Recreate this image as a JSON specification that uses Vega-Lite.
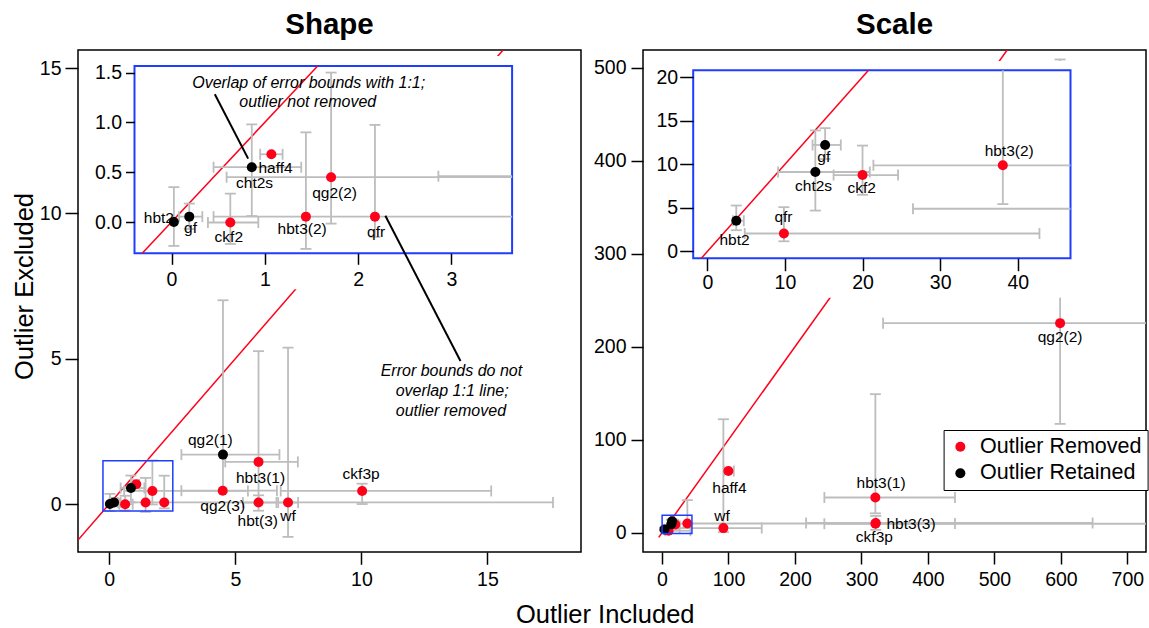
{
  "$schema": "https://vega.github.io/schema/vega-lite/v6.json",
  "background": "white",
  "padding": {"left": 11, "top": 8, "right": 0, "bottom": 0},
  "spacing": 10,
  "title": {"text": "Outlier Included", "orient": "bottom", "anchor": "middle", "fontSize": 25.5, "fontWeight": "normal", "font": "Liberation Sans", "color": "black", "dx": 25, "offset": 13},
  "datasets": {
    "shapePts": [
      {"name": "ckf2", "status": "Outlier Removed", "x": 0.63, "y": -0.005, "xlo": 0.39, "xhi": 0.93, "ylo": -0.22, "yhi": 0.285},
      {"name": "haff4", "status": "Outlier Removed", "x": 1.07, "y": 0.68, "xlo": 0.95, "xhi": 1.19, "ylo": null, "yhi": null},
      {"name": "hbt3(2)", "status": "Outlier Removed", "x": 1.44, "y": 0.054, "xlo": null, "xhi": null, "ylo": -0.27, "yhi": 0.9},
      {"name": "qg2(2)", "status": "Outlier Removed", "x": 1.71, "y": 0.45, "xlo": 0.59, "xhi": 5.5, "ylo": -0.016, "yhi": 1.5},
      {"name": "qfr", "status": "Outlier Removed", "x": 2.18, "y": 0.054, "xlo": 0.45, "xhi": 17.6, "ylo": -0.15, "yhi": 0.975},
      {"name": "hbt3(1)", "status": "Outlier Removed", "x": 5.92, "y": 1.45, "xlo": 4.6, "xhi": 7.48, "ylo": 0.05, "yhi": 5.26},
      {"name": "ckf3p", "status": "Outlier Removed", "x": 10.03, "y": 0.45, "xlo": 6.8, "xhi": 15.15, "ylo": 0.0, "yhi": 0.7},
      {"name": "qg2(3)", "status": "Outlier Removed", "x": 4.5, "y": 0.46, "xlo": 2.86, "xhi": 6.65, "ylo": null, "yhi": null},
      {"name": "hbt(3)", "status": "Outlier Removed", "x": 5.92, "y": 0.05, "xlo": 5.3, "xhi": 6.63, "ylo": -0.23, "yhi": 0.3},
      {"name": "wf", "status": "Outlier Removed", "x": 7.09, "y": 0.05, "xlo": 6.7, "xhi": 7.49, "ylo": -1.13, "yhi": 5.38},
      {"name": "hbt2", "status": "Outlier Retained", "x": 0.025, "y": 0.0, "xlo": null, "xhi": null, "ylo": -0.24, "yhi": 0.35},
      {"name": "gf", "status": "Outlier Retained", "x": 0.19, "y": 0.054, "xlo": 0.08, "xhi": 0.33, "ylo": -0.07, "yhi": 0.185},
      {"name": "cht2s", "status": "Outlier Retained", "x": 0.86, "y": 0.55, "xlo": 0.45, "xhi": 1.39, "ylo": 0.06, "yhi": 0.98},
      {"name": "qg2(1)", "status": "Outlier Retained", "x": 4.51, "y": 1.7, "xlo": 2.86, "xhi": 6.75, "ylo": 0.45, "yhi": 7.01}
    ],
    "shapeLabels": [
      {"name": "hbt2", "view": "inset", "lx": -0.136, "ly": 0.044},
      {"name": "gf", "view": "inset", "lx": 0.204, "ly": -0.056},
      {"name": "ckf2", "view": "inset", "lx": 0.614, "ly": -0.15},
      {"name": "cht2s", "view": "inset", "lx": 0.89, "ly": 0.389},
      {"name": "haff4", "view": "inset", "lx": 1.115, "ly": 0.546},
      {"name": "qg2(2)", "view": "inset", "lx": 1.747, "ly": 0.295},
      {"name": "hbt3(2)", "view": "inset", "lx": 1.4, "ly": -0.073},
      {"name": "qfr", "view": "inset", "lx": 2.193, "ly": -0.1},
      {"name": "qg2(1)", "view": "main", "lx": 4.01, "ly": 2.2},
      {"name": "hbt3(1)", "view": "main", "lx": 6.0, "ly": 0.91},
      {"name": "ckf3p", "view": "main", "lx": 9.99, "ly": 1.02},
      {"name": "qg2(3)", "view": "main", "lx": 4.5, "ly": -0.07},
      {"name": "hbt(3)", "view": "main", "lx": 5.89, "ly": -0.585},
      {"name": "wf", "view": "main", "lx": 7.09, "ly": -0.41}
    ],
    "shapeDiagMain": [{"x": -1.24, "y": -1.24}, {"x": 15.62, "y": 15.62}],
    "shapeDiagInset": [{"x": -0.314, "y": -0.314}, {"x": 1.566, "y": 1.566}],
    "shapeSmallBox": [{"x": -0.25, "x2": 2.52, "y": -0.24, "y2": 1.49}],
    "shapeInsetBg": [{"x": -0.7, "x2": 16.37, "y": 7.39, "y2": 15.41}],
    "shapeInsetBox": [{"x": -0.397, "x2": 3.65, "y": -0.314, "y2": 1.566}],
    "shapeNoteInsetLine": [{"x": 0.464, "y": 1.282}, {"x": 0.821, "y": 0.636}],
    "shapeNoteInsetText": [{"t": "Overlap of error bounds with 1:1;", "x": 1.47, "y": 1.4}, {"t": "outlier not removed", "x": 1.46, "y": 1.205}],
    "shapeNoteMainLine": [{"x": 10.95, "y": 9.92}, {"x": 13.93, "y": 4.92}],
    "shapeNoteMainText": [{"t": "Error bounds do not", "x": 13.57, "y": 4.575}, {"t": "overlap 1:1 line;", "x": 13.6, "y": 3.887}, {"t": "outlier removed", "x": 13.55, "y": 3.199}],
    "scalePts": [
      {"name": "qfr", "status": "Outlier Removed", "x": 9.87, "y": 2.06, "xlo": 4.82, "xhi": 42.8, "ylo": 1.17, "yhi": 5.08},
      {"name": "ckf2", "status": "Outlier Removed", "x": 20.0, "y": 8.76, "xlo": 16.27, "xhi": 24.58, "ylo": 6.5, "yhi": 12.14},
      {"name": "hbt3(2)", "status": "Outlier Removed", "x": 38.08, "y": 9.88, "xlo": 21.4, "xhi": 440.7, "ylo": 5.43, "yhi": 35},
      {"name": "haff4", "status": "Outlier Removed", "x": 99.8, "y": 66.4, "xlo": 93, "xhi": 108, "ylo": null, "yhi": null},
      {"name": "wf", "status": "Outlier Removed", "x": 92.3, "y": 4.9, "xlo": 26.5, "xhi": 150, "ylo": 0.5, "yhi": 122},
      {"name": "hbt3(1)", "status": "Outlier Removed", "x": 320.9, "y": 37.8, "xlo": 244.2, "xhi": 440.7, "ylo": 20.8, "yhi": 149},
      {"name": "ckf3p", "status": "Outlier Removed", "x": 321, "y": 9.6, "xlo": 244.2, "xhi": 760, "ylo": null, "yhi": null},
      {"name": "hbt3(3)", "status": "Outlier Removed", "x": 321.5, "y": 10.4, "xlo": 216.7, "xhi": 647.7, "ylo": 3, "yhi": 18},
      {"name": "qg2(2)", "status": "Outlier Removed", "x": 598.8, "y": 225.4, "xlo": 332.5, "xhi": 760, "ylo": 117, "yhi": 509},
      {"name": "hbt2", "status": "Outlier Retained", "x": 3.73, "y": 3.53, "xlo": 3.3, "xhi": 4.7, "ylo": 2.44, "yhi": 5.27},
      {"name": "cht2s", "status": "Outlier Retained", "x": 13.92, "y": 9.11, "xlo": 9.12, "xhi": 20.94, "ylo": 4.69, "yhi": 13.88},
      {"name": "gf", "status": "Outlier Retained", "x": 15.18, "y": 12.21, "xlo": 13.56, "xhi": 17.2, "ylo": 10.6, "yhi": 14.14}
    ],
    "scaleLabels": [
      {"name": "hbt2", "view": "inset", "lx": 3.5, "ly": 1.28},
      {"name": "qfr", "view": "inset", "lx": 9.81, "ly": 3.92},
      {"name": "cht2s", "view": "inset", "lx": 13.69, "ly": 7.48},
      {"name": "gf", "view": "inset", "lx": 15.0, "ly": 10.85},
      {"name": "ckf2", "view": "inset", "lx": 19.9, "ly": 7.29},
      {"name": "hbt3(2)", "view": "inset", "lx": 38.9, "ly": 11.55},
      {"name": "qg2(2)", "view": "main", "lx": 598.8, "ly": 210.8},
      {"name": "haff4", "view": "main", "lx": 101.4, "ly": 48.5},
      {"name": "wf", "view": "main", "lx": 90.4, "ly": 18},
      {"name": "hbt3(1)", "view": "main", "lx": 329.5, "ly": 53.9},
      {"name": "hbt3(3)", "view": "main", "lx": 374.6, "ly": 9.0},
      {"name": "ckf3p", "view": "main", "lx": 319.4, "ly": -4.2}
    ],
    "scaleDiagMain": [{"x": -5, "y": -5}, {"x": 519.2, "y": 519.2}],
    "scaleDiagInset": [{"x": -0.77, "y": -0.77}, {"x": 20.77, "y": 20.77}],
    "scaleSmallBox": [{"x": 0.15, "x2": 45, "y": -0.8, "y2": 18.8}],
    "scaleInsetBg": [{"x": -19, "x2": 629, "y": 252.7, "y2": 507.4}],
    "scaleInsetBox": [{"x": -1.82, "x2": 46.8, "y": -0.77, "y2": 20.77}]
  },
  "hconcat": [
    {
      "width": 503,
      "height": 502,
      "title": {"text": "Shape", "anchor": "middle", "offset": 10, "fontSize": 29.5, "fontWeight": "bold"},
      "resolve": {"scale": {"x": "independent", "y": "independent"}, "axis": {"x": "independent", "y": "independent"}},
      "layer": [
        {
          "layer": [
            {"data": {"name": "shapeDiagMain"}, "mark": {"type": "line", "color": "#ff001a", "strokeWidth": 1.5, "clip": true},
             "encoding": {
               "x": {"field": "x", "type": "quantitative", "scale": {"domain": [-1.24, 18.71], "nice": false, "zero": false}, "axis": {"orient": "bottom", "values": [0, 5, 10, 15], "tickSize": 12.3, "labelPadding": 6, "title": null, "zindex": 1}},
               "y": {"field": "y", "type": "quantitative", "scale": {"domain": [-1.65, 15.62], "nice": false, "zero": false}, "axis": {"orient": "left", "values": [0, 5, 10, 15], "tickSize": 13, "labelPadding": 4, "title": "Outlier Excluded", "titlePadding": 2, "titleY": 236, "zindex": 1}}}},
            {"data": {"name": "shapePts"}, "transform": [{"filter": "isValid(datum.ylo)"}], "mark": {"type": "rule", "color": "#bdbdbd", "strokeWidth": 1.8, "clip": true},
             "encoding": {
               "x": {"field": "x", "type": "quantitative", "scale": {"domain": [-1.24, 18.71], "nice": false, "zero": false}, "axis": {"orient": "bottom", "values": [0, 5, 10, 15], "tickSize": 12.3, "labelPadding": 6, "title": null, "zindex": 1}},
               "y": {"field": "ylo", "type": "quantitative", "scale": {"domain": [-1.65, 15.62], "nice": false, "zero": false}, "axis": {"orient": "left", "values": [0, 5, 10, 15], "tickSize": 13, "labelPadding": 4, "title": "Outlier Excluded", "titlePadding": 2, "titleY": 236, "zindex": 1}},
               "y2": {"field": "yhi"}}},
            {"data": {"name": "shapePts"}, "transform": [{"filter": "isValid(datum.xlo)"}], "mark": {"type": "rule", "color": "#bdbdbd", "strokeWidth": 1.8, "clip": true},
             "encoding": {
               "x": {"field": "xlo", "type": "quantitative", "scale": {"domain": [-1.24, 18.71], "nice": false, "zero": false}, "axis": {"orient": "bottom", "values": [0, 5, 10, 15], "tickSize": 12.3, "labelPadding": 6, "title": null, "zindex": 1}},
               "x2": {"field": "xhi"},
               "y": {"field": "y", "type": "quantitative", "scale": {"domain": [-1.65, 15.62], "nice": false, "zero": false}, "axis": {"orient": "left", "values": [0, 5, 10, 15], "tickSize": 13, "labelPadding": 4, "title": "Outlier Excluded", "titlePadding": 2, "titleY": 236, "zindex": 1}}}},
            {"data": {"name": "shapePts"}, "transform": [{"filter": "isValid(datum.ylo)"}], "mark": {"type": "tick", "orient": "horizontal", "size": 11, "thickness": 1.8, "color": "#bdbdbd", "opacity": 1, "clip": true},
             "encoding": {
               "x": {"field": "x", "type": "quantitative", "scale": {"domain": [-1.24, 18.71], "nice": false, "zero": false}, "axis": {"orient": "bottom", "values": [0, 5, 10, 15], "tickSize": 12.3, "labelPadding": 6, "title": null, "zindex": 1}},
               "y": {"field": "ylo", "type": "quantitative", "scale": {"domain": [-1.65, 15.62], "nice": false, "zero": false}, "axis": {"orient": "left", "values": [0, 5, 10, 15], "tickSize": 13, "labelPadding": 4, "title": "Outlier Excluded", "titlePadding": 2, "titleY": 236, "zindex": 1}}}},
            {"data": {"name": "shapePts"}, "transform": [{"filter": "isValid(datum.yhi)"}], "mark": {"type": "tick", "orient": "horizontal", "size": 11, "thickness": 1.8, "color": "#bdbdbd", "opacity": 1, "clip": true},
             "encoding": {
               "x": {"field": "x", "type": "quantitative", "scale": {"domain": [-1.24, 18.71], "nice": false, "zero": false}, "axis": {"orient": "bottom", "values": [0, 5, 10, 15], "tickSize": 12.3, "labelPadding": 6, "title": null, "zindex": 1}},
               "y": {"field": "yhi", "type": "quantitative", "scale": {"domain": [-1.65, 15.62], "nice": false, "zero": false}, "axis": {"orient": "left", "values": [0, 5, 10, 15], "tickSize": 13, "labelPadding": 4, "title": "Outlier Excluded", "titlePadding": 2, "titleY": 236, "zindex": 1}}}},
            {"data": {"name": "shapePts"}, "transform": [{"filter": "isValid(datum.xlo)"}], "mark": {"type": "tick", "orient": "vertical", "size": 11, "thickness": 1.8, "color": "#bdbdbd", "opacity": 1, "clip": true},
             "encoding": {
               "x": {"field": "xlo", "type": "quantitative", "scale": {"domain": [-1.24, 18.71], "nice": false, "zero": false}, "axis": {"orient": "bottom", "values": [0, 5, 10, 15], "tickSize": 12.3, "labelPadding": 6, "title": null, "zindex": 1}},
               "y": {"field": "y", "type": "quantitative", "scale": {"domain": [-1.65, 15.62], "nice": false, "zero": false}, "axis": {"orient": "left", "values": [0, 5, 10, 15], "tickSize": 13, "labelPadding": 4, "title": "Outlier Excluded", "titlePadding": 2, "titleY": 236, "zindex": 1}}}},
            {"data": {"name": "shapePts"}, "transform": [{"filter": "isValid(datum.xhi)"}], "mark": {"type": "tick", "orient": "vertical", "size": 11, "thickness": 1.8, "color": "#bdbdbd", "opacity": 1, "clip": true},
             "encoding": {
               "x": {"field": "xhi", "type": "quantitative", "scale": {"domain": [-1.24, 18.71], "nice": false, "zero": false}, "axis": {"orient": "bottom", "values": [0, 5, 10, 15], "tickSize": 12.3, "labelPadding": 6, "title": null, "zindex": 1}},
               "y": {"field": "y", "type": "quantitative", "scale": {"domain": [-1.65, 15.62], "nice": false, "zero": false}, "axis": {"orient": "left", "values": [0, 5, 10, 15], "tickSize": 13, "labelPadding": 4, "title": "Outlier Excluded", "titlePadding": 2, "titleY": 236, "zindex": 1}}}},
            {"data": {"name": "shapePts"}, "mark": {"type": "circle", "size": 100, "opacity": 1},
             "encoding": {
               "x": {"field": "x", "type": "quantitative", "scale": {"domain": [-1.24, 18.71], "nice": false, "zero": false}, "axis": {"orient": "bottom", "values": [0, 5, 10, 15], "tickSize": 12.3, "labelPadding": 6, "title": null, "zindex": 1}},
               "y": {"field": "y", "type": "quantitative", "scale": {"domain": [-1.65, 15.62], "nice": false, "zero": false}, "axis": {"orient": "left", "values": [0, 5, 10, 15], "tickSize": 13, "labelPadding": 4, "title": "Outlier Excluded", "titlePadding": 2, "titleY": 236, "zindex": 1}},
               "color": {"field": "status", "type": "nominal", "scale": {"domain": ["Outlier Removed", "Outlier Retained"], "range": ["#ff001a", "#000000"]}, "legend": null}}},
            {"data": {"name": "shapeLabels"}, "transform": [{"filter": "datum.view == 'main'"}], "mark": {"type": "text", "fontSize": 15.5, "color": "black", "align": "center", "baseline": "middle"},
             "encoding": {
               "x": {"field": "lx", "type": "quantitative", "scale": {"domain": [-1.24, 18.71], "nice": false, "zero": false}, "axis": {"orient": "bottom", "values": [0, 5, 10, 15], "tickSize": 12.3, "labelPadding": 6, "title": null, "zindex": 1}},
               "y": {"field": "ly", "type": "quantitative", "scale": {"domain": [-1.65, 15.62], "nice": false, "zero": false}, "axis": {"orient": "left", "values": [0, 5, 10, 15], "tickSize": 13, "labelPadding": 4, "title": "Outlier Excluded", "titlePadding": 2, "titleY": 236, "zindex": 1}},
               "text": {"field": "name"}}},
            {"data": {"name": "shapeSmallBox"}, "mark": {"type": "rect", "filled": false, "color": "#1f3dff", "strokeWidth": 1.5},
             "encoding": {
               "x": {"field": "x", "type": "quantitative", "scale": {"domain": [-1.24, 18.71], "nice": false, "zero": false}, "axis": {"orient": "bottom", "values": [0, 5, 10, 15], "tickSize": 12.3, "labelPadding": 6, "title": null, "zindex": 1}},
               "x2": {"field": "x2"},
               "y": {"field": "y", "type": "quantitative", "scale": {"domain": [-1.65, 15.62], "nice": false, "zero": false}, "axis": {"orient": "left", "values": [0, 5, 10, 15], "tickSize": 13, "labelPadding": 4, "title": "Outlier Excluded", "titlePadding": 2, "titleY": 236, "zindex": 1}},
               "y2": {"field": "y2"}}},
            {"data": {"name": "shapeInsetBg"}, "mark": {"type": "rect", "fill": "white", "strokeWidth": 0},
             "encoding": {
               "x": {"field": "x", "type": "quantitative", "scale": {"domain": [-1.24, 18.71], "nice": false, "zero": false}, "axis": {"orient": "bottom", "values": [0, 5, 10, 15], "tickSize": 12.3, "labelPadding": 6, "title": null, "zindex": 1}},
               "x2": {"field": "x2"},
               "y": {"field": "y", "type": "quantitative", "scale": {"domain": [-1.65, 15.62], "nice": false, "zero": false}, "axis": {"orient": "left", "values": [0, 5, 10, 15], "tickSize": 13, "labelPadding": 4, "title": "Outlier Excluded", "titlePadding": 2, "titleY": 236, "zindex": 1}},
               "y2": {"field": "y2"}}}
          ]
        },
        {
          "layer": [
            {"data": {"name": "shapeInsetBox"}, "mark": {"type": "rect", "filled": false, "color": "#1f3dff", "strokeWidth": 2},
             "encoding": {
               "x": {"field": "x", "type": "quantitative", "scale": {"domain": [-0.397, 3.65], "range": [56.5, 434.1], "clamp": true, "nice": false, "zero": false}, "axis": {"orient": "bottom", "offset": -298.7, "values": [0, 1, 2, 3], "tickSize": 11, "labelPadding": 6, "title": null, "zindex": 2}},
               "x2": {"field": "x2"},
               "y": {"field": "y", "type": "quantitative", "scale": {"domain": [-0.314, 1.566], "range": [203.3, 16], "clamp": true, "nice": false, "zero": false}, "axis": {"orient": "left", "offset": -56.5, "values": [0, 0.5, 1, 1.5], "format": ".1f", "tickSize": 9, "labelPadding": 4, "title": null, "zindex": 2}},
               "y2": {"field": "y2"}}},
            {"data": {"name": "shapeDiagInset"}, "mark": {"type": "line", "color": "#ff001a", "strokeWidth": 1.5},
             "encoding": {
               "x": {"field": "x", "type": "quantitative", "scale": {"domain": [-0.397, 3.65], "range": [56.5, 434.1], "clamp": true, "nice": false, "zero": false}, "axis": {"orient": "bottom", "offset": -298.7, "values": [0, 1, 2, 3], "tickSize": 11, "labelPadding": 6, "title": null, "zindex": 2}},
               "y": {"field": "y", "type": "quantitative", "scale": {"domain": [-0.314, 1.566], "range": [203.3, 16], "clamp": true, "nice": false, "zero": false}, "axis": {"orient": "left", "offset": -56.5, "values": [0, 0.5, 1, 1.5], "format": ".1f", "tickSize": 9, "labelPadding": 4, "title": null, "zindex": 2}}}},
            {"data": {"name": "shapePts"}, "transform": [{"filter": "isValid(datum.ylo) && datum.x >= -0.397 && datum.x <= 3.65"}], "mark": {"type": "rule", "color": "#bdbdbd", "strokeWidth": 1.8},
             "encoding": {
               "x": {"field": "x", "type": "quantitative", "scale": {"domain": [-0.397, 3.65], "range": [56.5, 434.1], "clamp": true, "nice": false, "zero": false}, "axis": {"orient": "bottom", "offset": -298.7, "values": [0, 1, 2, 3], "tickSize": 11, "labelPadding": 6, "title": null, "zindex": 2}},
               "y": {"field": "ylo", "type": "quantitative", "scale": {"domain": [-0.314, 1.566], "range": [203.3, 16], "clamp": true, "nice": false, "zero": false}, "axis": {"orient": "left", "offset": -56.5, "values": [0, 0.5, 1, 1.5], "format": ".1f", "tickSize": 9, "labelPadding": 4, "title": null, "zindex": 2}},
               "y2": {"field": "yhi"}}},
            {"data": {"name": "shapePts"}, "transform": [{"filter": "isValid(datum.xlo) && datum.y >= -0.314 && datum.y <= 1.566"}], "mark": {"type": "rule", "color": "#bdbdbd", "strokeWidth": 1.8},
             "encoding": {
               "x": {"field": "xlo", "type": "quantitative", "scale": {"domain": [-0.397, 3.65], "range": [56.5, 434.1], "clamp": true, "nice": false, "zero": false}, "axis": {"orient": "bottom", "offset": -298.7, "values": [0, 1, 2, 3], "tickSize": 11, "labelPadding": 6, "title": null, "zindex": 2}},
               "x2": {"field": "xhi"},
               "y": {"field": "y", "type": "quantitative", "scale": {"domain": [-0.314, 1.566], "range": [203.3, 16], "clamp": true, "nice": false, "zero": false}, "axis": {"orient": "left", "offset": -56.5, "values": [0, 0.5, 1, 1.5], "format": ".1f", "tickSize": 9, "labelPadding": 4, "title": null, "zindex": 2}}}},
            {"data": {"name": "shapePts"}, "transform": [{"filter": "isValid(datum.ylo) && datum.x >= -0.397 && datum.x <= 3.65 && datum.ylo >= -0.314 && datum.ylo <= 1.566"}], "mark": {"type": "tick", "orient": "horizontal", "size": 11, "thickness": 1.8, "color": "#bdbdbd", "opacity": 1},
             "encoding": {
               "x": {"field": "x", "type": "quantitative", "scale": {"domain": [-0.397, 3.65], "range": [56.5, 434.1], "clamp": true, "nice": false, "zero": false}, "axis": {"orient": "bottom", "offset": -298.7, "values": [0, 1, 2, 3], "tickSize": 11, "labelPadding": 6, "title": null, "zindex": 2}},
               "y": {"field": "ylo", "type": "quantitative", "scale": {"domain": [-0.314, 1.566], "range": [203.3, 16], "clamp": true, "nice": false, "zero": false}, "axis": {"orient": "left", "offset": -56.5, "values": [0, 0.5, 1, 1.5], "format": ".1f", "tickSize": 9, "labelPadding": 4, "title": null, "zindex": 2}}}},
            {"data": {"name": "shapePts"}, "transform": [{"filter": "isValid(datum.yhi) && datum.x >= -0.397 && datum.x <= 3.65 && datum.yhi >= -0.314 && datum.yhi <= 1.566"}], "mark": {"type": "tick", "orient": "horizontal", "size": 11, "thickness": 1.8, "color": "#bdbdbd", "opacity": 1},
             "encoding": {
               "x": {"field": "x", "type": "quantitative", "scale": {"domain": [-0.397, 3.65], "range": [56.5, 434.1], "clamp": true, "nice": false, "zero": false}, "axis": {"orient": "bottom", "offset": -298.7, "values": [0, 1, 2, 3], "tickSize": 11, "labelPadding": 6, "title": null, "zindex": 2}},
               "y": {"field": "yhi", "type": "quantitative", "scale": {"domain": [-0.314, 1.566], "range": [203.3, 16], "clamp": true, "nice": false, "zero": false}, "axis": {"orient": "left", "offset": -56.5, "values": [0, 0.5, 1, 1.5], "format": ".1f", "tickSize": 9, "labelPadding": 4, "title": null, "zindex": 2}}}},
            {"data": {"name": "shapePts"}, "transform": [{"filter": "isValid(datum.xlo) && datum.y >= -0.314 && datum.y <= 1.566 && datum.xlo >= -0.397 && datum.xlo <= 3.65"}], "mark": {"type": "tick", "orient": "vertical", "size": 11, "thickness": 1.8, "color": "#bdbdbd", "opacity": 1},
             "encoding": {
               "x": {"field": "xlo", "type": "quantitative", "scale": {"domain": [-0.397, 3.65], "range": [56.5, 434.1], "clamp": true, "nice": false, "zero": false}, "axis": {"orient": "bottom", "offset": -298.7, "values": [0, 1, 2, 3], "tickSize": 11, "labelPadding": 6, "title": null, "zindex": 2}},
               "y": {"field": "y", "type": "quantitative", "scale": {"domain": [-0.314, 1.566], "range": [203.3, 16], "clamp": true, "nice": false, "zero": false}, "axis": {"orient": "left", "offset": -56.5, "values": [0, 0.5, 1, 1.5], "format": ".1f", "tickSize": 9, "labelPadding": 4, "title": null, "zindex": 2}}}},
            {"data": {"name": "shapePts"}, "transform": [{"filter": "isValid(datum.xhi) && datum.y >= -0.314 && datum.y <= 1.566 && datum.xhi >= -0.397 && datum.xhi <= 3.65"}], "mark": {"type": "tick", "orient": "vertical", "size": 11, "thickness": 1.8, "color": "#bdbdbd", "opacity": 1},
             "encoding": {
               "x": {"field": "xhi", "type": "quantitative", "scale": {"domain": [-0.397, 3.65], "range": [56.5, 434.1], "clamp": true, "nice": false, "zero": false}, "axis": {"orient": "bottom", "offset": -298.7, "values": [0, 1, 2, 3], "tickSize": 11, "labelPadding": 6, "title": null, "zindex": 2}},
               "y": {"field": "y", "type": "quantitative", "scale": {"domain": [-0.314, 1.566], "range": [203.3, 16], "clamp": true, "nice": false, "zero": false}, "axis": {"orient": "left", "offset": -56.5, "values": [0, 0.5, 1, 1.5], "format": ".1f", "tickSize": 9, "labelPadding": 4, "title": null, "zindex": 2}}}},
            {"data": {"name": "shapePts"}, "transform": [{"filter": "datum.x >= -0.397 && datum.x <= 3.65 && datum.y >= -0.314 && datum.y <= 1.566"}], "mark": {"type": "circle", "size": 100, "opacity": 1},
             "encoding": {
               "x": {"field": "x", "type": "quantitative", "scale": {"domain": [-0.397, 3.65], "range": [56.5, 434.1], "clamp": true, "nice": false, "zero": false}, "axis": {"orient": "bottom", "offset": -298.7, "values": [0, 1, 2, 3], "tickSize": 11, "labelPadding": 6, "title": null, "zindex": 2}},
               "y": {"field": "y", "type": "quantitative", "scale": {"domain": [-0.314, 1.566], "range": [203.3, 16], "clamp": true, "nice": false, "zero": false}, "axis": {"orient": "left", "offset": -56.5, "values": [0, 0.5, 1, 1.5], "format": ".1f", "tickSize": 9, "labelPadding": 4, "title": null, "zindex": 2}},
               "color": {"field": "status", "type": "nominal", "scale": {"domain": ["Outlier Removed", "Outlier Retained"], "range": ["#ff001a", "#000000"]}, "legend": null}}},
            {"data": {"name": "shapeLabels"}, "transform": [{"filter": "datum.view == 'inset'"}], "mark": {"type": "text", "fontSize": 15.5, "color": "black", "align": "center", "baseline": "middle"},
             "encoding": {
               "x": {"field": "lx", "type": "quantitative", "scale": {"domain": [-0.397, 3.65], "range": [56.5, 434.1], "clamp": true, "nice": false, "zero": false}, "axis": {"orient": "bottom", "offset": -298.7, "values": [0, 1, 2, 3], "tickSize": 11, "labelPadding": 6, "title": null, "zindex": 2}},
               "y": {"field": "ly", "type": "quantitative", "scale": {"domain": [-0.314, 1.566], "range": [203.3, 16], "clamp": true, "nice": false, "zero": false}, "axis": {"orient": "left", "offset": -56.5, "values": [0, 0.5, 1, 1.5], "format": ".1f", "tickSize": 9, "labelPadding": 4, "title": null, "zindex": 2}},
               "text": {"field": "name"}}},
            {"data": {"name": "shapeNoteInsetLine"}, "mark": {"type": "line", "color": "black", "strokeWidth": 2},
             "encoding": {
               "x": {"field": "x", "type": "quantitative", "scale": {"domain": [-0.397, 3.65], "range": [56.5, 434.1], "clamp": true, "nice": false, "zero": false}, "axis": {"orient": "bottom", "offset": -298.7, "values": [0, 1, 2, 3], "tickSize": 11, "labelPadding": 6, "title": null, "zindex": 2}},
               "y": {"field": "y", "type": "quantitative", "scale": {"domain": [-0.314, 1.566], "range": [203.3, 16], "clamp": true, "nice": false, "zero": false}, "axis": {"orient": "left", "offset": -56.5, "values": [0, 0.5, 1, 1.5], "format": ".1f", "tickSize": 9, "labelPadding": 4, "title": null, "zindex": 2}}}},
            {"data": {"name": "shapeNoteInsetText"}, "mark": {"type": "text", "fontSize": 16, "fontStyle": "italic", "color": "black", "align": "center", "baseline": "middle"},
             "encoding": {
               "x": {"field": "x", "type": "quantitative", "scale": {"domain": [-0.397, 3.65], "range": [56.5, 434.1], "clamp": true, "nice": false, "zero": false}, "axis": {"orient": "bottom", "offset": -298.7, "values": [0, 1, 2, 3], "tickSize": 11, "labelPadding": 6, "title": null, "zindex": 2}},
               "y": {"field": "y", "type": "quantitative", "scale": {"domain": [-0.314, 1.566], "range": [203.3, 16], "clamp": true, "nice": false, "zero": false}, "axis": {"orient": "left", "offset": -56.5, "values": [0, 0.5, 1, 1.5], "format": ".1f", "tickSize": 9, "labelPadding": 4, "title": null, "zindex": 2}},
               "text": {"field": "t"}}}
          ]
        },
        {
          "layer": [
            {"data": {"name": "shapeNoteMainLine"}, "mark": {"type": "line", "color": "black", "strokeWidth": 2},
             "encoding": {
               "x": {"field": "x", "type": "quantitative", "scale": {"domain": [-1.24, 18.71], "nice": false, "zero": false}, "axis": null},
               "y": {"field": "y", "type": "quantitative", "scale": {"domain": [-1.65, 15.62], "nice": false, "zero": false}, "axis": null}}},
            {"data": {"name": "shapeNoteMainText"}, "mark": {"type": "text", "fontSize": 16, "fontStyle": "italic", "color": "black", "align": "center", "baseline": "middle"},
             "encoding": {
               "x": {"field": "x", "type": "quantitative", "scale": {"domain": [-1.24, 18.71], "nice": false, "zero": false}, "axis": null},
               "y": {"field": "y", "type": "quantitative", "scale": {"domain": [-1.65, 15.62], "nice": false, "zero": false}, "axis": null},
               "text": {"field": "t"}}}
          ]
        }
      ]
    },
    {
      "width": 503,
      "height": 502,
      "title": {"text": "Scale", "anchor": "middle", "offset": 10, "fontSize": 29.5, "fontWeight": "bold"},
      "resolve": {"scale": {"x": "independent", "y": "independent"}, "axis": {"x": "independent", "y": "independent"}},
      "layer": [
        {
          "layer": [
            {"data": {"name": "scaleDiagMain"}, "mark": {"type": "line", "color": "#ff001a", "strokeWidth": 1.5, "clip": true},
             "encoding": {
               "x": {"field": "x", "type": "quantitative", "scale": {"domain": [-28.6, 728], "nice": false, "zero": false}, "axis": {"orient": "bottom", "values": [0, 100, 200, 300, 400, 500, 600, 700], "tickSize": 12, "labelPadding": 6, "title": null, "zindex": 1}},
               "y": {"field": "y", "type": "quantitative", "scale": {"domain": [-20.8, 519.2], "nice": false, "zero": false}, "axis": {"orient": "left", "values": [0, 100, 200, 300, 400, 500], "tickSize": 12, "labelPadding": 5, "title": null, "zindex": 1}}}},
            {"data": {"name": "scalePts"}, "transform": [{"filter": "isValid(datum.ylo)"}], "mark": {"type": "rule", "color": "#bdbdbd", "strokeWidth": 1.8, "clip": true},
             "encoding": {
               "x": {"field": "x", "type": "quantitative", "scale": {"domain": [-28.6, 728], "nice": false, "zero": false}, "axis": {"orient": "bottom", "values": [0, 100, 200, 300, 400, 500, 600, 700], "tickSize": 12, "labelPadding": 6, "title": null, "zindex": 1}},
               "y": {"field": "ylo", "type": "quantitative", "scale": {"domain": [-20.8, 519.2], "nice": false, "zero": false}, "axis": {"orient": "left", "values": [0, 100, 200, 300, 400, 500], "tickSize": 12, "labelPadding": 5, "title": null, "zindex": 1}},
               "y2": {"field": "yhi"}}},
            {"data": {"name": "scalePts"}, "transform": [{"filter": "isValid(datum.xlo)"}], "mark": {"type": "rule", "color": "#bdbdbd", "strokeWidth": 1.8, "clip": true},
             "encoding": {
               "x": {"field": "xlo", "type": "quantitative", "scale": {"domain": [-28.6, 728], "nice": false, "zero": false}, "axis": {"orient": "bottom", "values": [0, 100, 200, 300, 400, 500, 600, 700], "tickSize": 12, "labelPadding": 6, "title": null, "zindex": 1}},
               "x2": {"field": "xhi"},
               "y": {"field": "y", "type": "quantitative", "scale": {"domain": [-20.8, 519.2], "nice": false, "zero": false}, "axis": {"orient": "left", "values": [0, 100, 200, 300, 400, 500], "tickSize": 12, "labelPadding": 5, "title": null, "zindex": 1}}}},
            {"data": {"name": "scalePts"}, "transform": [{"filter": "isValid(datum.ylo)"}], "mark": {"type": "tick", "orient": "horizontal", "size": 11, "thickness": 1.8, "color": "#bdbdbd", "opacity": 1, "clip": true},
             "encoding": {
               "x": {"field": "x", "type": "quantitative", "scale": {"domain": [-28.6, 728], "nice": false, "zero": false}, "axis": {"orient": "bottom", "values": [0, 100, 200, 300, 400, 500, 600, 700], "tickSize": 12, "labelPadding": 6, "title": null, "zindex": 1}},
               "y": {"field": "ylo", "type": "quantitative", "scale": {"domain": [-20.8, 519.2], "nice": false, "zero": false}, "axis": {"orient": "left", "values": [0, 100, 200, 300, 400, 500], "tickSize": 12, "labelPadding": 5, "title": null, "zindex": 1}}}},
            {"data": {"name": "scalePts"}, "transform": [{"filter": "isValid(datum.yhi)"}], "mark": {"type": "tick", "orient": "horizontal", "size": 11, "thickness": 1.8, "color": "#bdbdbd", "opacity": 1, "clip": true},
             "encoding": {
               "x": {"field": "x", "type": "quantitative", "scale": {"domain": [-28.6, 728], "nice": false, "zero": false}, "axis": {"orient": "bottom", "values": [0, 100, 200, 300, 400, 500, 600, 700], "tickSize": 12, "labelPadding": 6, "title": null, "zindex": 1}},
               "y": {"field": "yhi", "type": "quantitative", "scale": {"domain": [-20.8, 519.2], "nice": false, "zero": false}, "axis": {"orient": "left", "values": [0, 100, 200, 300, 400, 500], "tickSize": 12, "labelPadding": 5, "title": null, "zindex": 1}}}},
            {"data": {"name": "scalePts"}, "transform": [{"filter": "isValid(datum.xlo)"}], "mark": {"type": "tick", "orient": "vertical", "size": 11, "thickness": 1.8, "color": "#bdbdbd", "opacity": 1, "clip": true},
             "encoding": {
               "x": {"field": "xlo", "type": "quantitative", "scale": {"domain": [-28.6, 728], "nice": false, "zero": false}, "axis": {"orient": "bottom", "values": [0, 100, 200, 300, 400, 500, 600, 700], "tickSize": 12, "labelPadding": 6, "title": null, "zindex": 1}},
               "y": {"field": "y", "type": "quantitative", "scale": {"domain": [-20.8, 519.2], "nice": false, "zero": false}, "axis": {"orient": "left", "values": [0, 100, 200, 300, 400, 500], "tickSize": 12, "labelPadding": 5, "title": null, "zindex": 1}}}},
            {"data": {"name": "scalePts"}, "transform": [{"filter": "isValid(datum.xhi)"}], "mark": {"type": "tick", "orient": "vertical", "size": 11, "thickness": 1.8, "color": "#bdbdbd", "opacity": 1, "clip": true},
             "encoding": {
               "x": {"field": "xhi", "type": "quantitative", "scale": {"domain": [-28.6, 728], "nice": false, "zero": false}, "axis": {"orient": "bottom", "values": [0, 100, 200, 300, 400, 500, 600, 700], "tickSize": 12, "labelPadding": 6, "title": null, "zindex": 1}},
               "y": {"field": "y", "type": "quantitative", "scale": {"domain": [-20.8, 519.2], "nice": false, "zero": false}, "axis": {"orient": "left", "values": [0, 100, 200, 300, 400, 500], "tickSize": 12, "labelPadding": 5, "title": null, "zindex": 1}}}},
            {"data": {"name": "scalePts"}, "mark": {"type": "circle", "size": 100, "opacity": 1},
             "encoding": {
               "x": {"field": "x", "type": "quantitative", "scale": {"domain": [-28.6, 728], "nice": false, "zero": false}, "axis": {"orient": "bottom", "values": [0, 100, 200, 300, 400, 500, 600, 700], "tickSize": 12, "labelPadding": 6, "title": null, "zindex": 1}},
               "y": {"field": "y", "type": "quantitative", "scale": {"domain": [-20.8, 519.2], "nice": false, "zero": false}, "axis": {"orient": "left", "values": [0, 100, 200, 300, 400, 500], "tickSize": 12, "labelPadding": 5, "title": null, "zindex": 1}},
               "color": {"field": "status", "type": "nominal", "scale": {"domain": ["Outlier Removed", "Outlier Retained"], "range": ["#ff001a", "#000000"]},
                 "legend": {"orient": "none", "legendX": 300.6, "legendY": 380, "title": null, "strokeColor": "black", "fillColor": "white", "padding": 6, "labelFontSize": 21.5, "labelFont": "Liberation Sans", "labelColor": "black", "labelLimit": 400, "symbolType": "circle", "symbolSize": 100, "symbolStrokeWidth": 0, "rowPadding": 3.5, "labelOffset": 9, "symbolOpacity": 1}}}},
            {"data": {"name": "scaleLabels"}, "transform": [{"filter": "datum.view == 'main'"}], "mark": {"type": "text", "fontSize": 15.5, "color": "black", "align": "center", "baseline": "middle"},
             "encoding": {
               "x": {"field": "lx", "type": "quantitative", "scale": {"domain": [-28.6, 728], "nice": false, "zero": false}, "axis": {"orient": "bottom", "values": [0, 100, 200, 300, 400, 500, 600, 700], "tickSize": 12, "labelPadding": 6, "title": null, "zindex": 1}},
               "y": {"field": "ly", "type": "quantitative", "scale": {"domain": [-20.8, 519.2], "nice": false, "zero": false}, "axis": {"orient": "left", "values": [0, 100, 200, 300, 400, 500], "tickSize": 12, "labelPadding": 5, "title": null, "zindex": 1}},
               "text": {"field": "name"}}},
            {"data": {"name": "scaleSmallBox"}, "mark": {"type": "rect", "filled": false, "color": "#1f3dff", "strokeWidth": 1.5},
             "encoding": {
               "x": {"field": "x", "type": "quantitative", "scale": {"domain": [-28.6, 728], "nice": false, "zero": false}, "axis": {"orient": "bottom", "values": [0, 100, 200, 300, 400, 500, 600, 700], "tickSize": 12, "labelPadding": 6, "title": null, "zindex": 1}},
               "x2": {"field": "x2"},
               "y": {"field": "y", "type": "quantitative", "scale": {"domain": [-20.8, 519.2], "nice": false, "zero": false}, "axis": {"orient": "left", "values": [0, 100, 200, 300, 400, 500], "tickSize": 12, "labelPadding": 5, "title": null, "zindex": 1}},
               "y2": {"field": "y2"}}},
            {"data": {"name": "scaleInsetBg"}, "mark": {"type": "rect", "fill": "white", "strokeWidth": 0},
             "encoding": {
               "x": {"field": "x", "type": "quantitative", "scale": {"domain": [-28.6, 728], "nice": false, "zero": false}, "axis": {"orient": "bottom", "values": [0, 100, 200, 300, 400, 500, 600, 700], "tickSize": 12, "labelPadding": 6, "title": null, "zindex": 1}},
               "x2": {"field": "x2"},
               "y": {"field": "y", "type": "quantitative", "scale": {"domain": [-20.8, 519.2], "nice": false, "zero": false}, "axis": {"orient": "left", "values": [0, 100, 200, 300, 400, 500], "tickSize": 12, "labelPadding": 5, "title": null, "zindex": 1}},
               "y2": {"field": "y2"}}}
          ]
        },
        {
          "layer": [
            {"data": {"name": "scaleInsetBox"}, "mark": {"type": "rect", "filled": false, "color": "#1f3dff", "strokeWidth": 2},
             "encoding": {
               "x": {"field": "x", "type": "quantitative", "scale": {"domain": [-1.82, 46.8], "range": [50.2, 427.5], "clamp": true, "nice": false, "zero": false}, "axis": {"orient": "bottom", "offset": -293.8, "values": [0, 10, 20, 30, 40], "tickSize": 12.5, "labelPadding": 3, "title": null, "zindex": 2}},
               "x2": {"field": "x2"},
               "y": {"field": "y", "type": "quantitative", "scale": {"domain": [-0.77, 20.77], "range": [208.2, 20.3], "clamp": true, "nice": false, "zero": false}, "axis": {"orient": "left", "offset": -50.2, "values": [0, 5, 10, 15, 20], "tickSize": 13.5, "labelPadding": 2, "title": null, "zindex": 2}},
               "y2": {"field": "y2"}}},
            {"data": {"name": "scaleDiagInset"}, "mark": {"type": "line", "color": "#ff001a", "strokeWidth": 1.5},
             "encoding": {
               "x": {"field": "x", "type": "quantitative", "scale": {"domain": [-1.82, 46.8], "range": [50.2, 427.5], "clamp": true, "nice": false, "zero": false}, "axis": {"orient": "bottom", "offset": -293.8, "values": [0, 10, 20, 30, 40], "tickSize": 12.5, "labelPadding": 3, "title": null, "zindex": 2}},
               "y": {"field": "y", "type": "quantitative", "scale": {"domain": [-0.77, 20.77], "range": [208.2, 20.3], "clamp": true, "nice": false, "zero": false}, "axis": {"orient": "left", "offset": -50.2, "values": [0, 5, 10, 15, 20], "tickSize": 13.5, "labelPadding": 2, "title": null, "zindex": 2}}}},
            {"data": {"name": "scalePts"}, "transform": [{"filter": "isValid(datum.ylo) && datum.x >= -1.82 && datum.x <= 46.8"}], "mark": {"type": "rule", "color": "#bdbdbd", "strokeWidth": 1.8},
             "encoding": {
               "x": {"field": "x", "type": "quantitative", "scale": {"domain": [-1.82, 46.8], "range": [50.2, 427.5], "clamp": true, "nice": false, "zero": false}, "axis": {"orient": "bottom", "offset": -293.8, "values": [0, 10, 20, 30, 40], "tickSize": 12.5, "labelPadding": 3, "title": null, "zindex": 2}},
               "y": {"field": "ylo", "type": "quantitative", "scale": {"domain": [-0.77, 20.77], "range": [208.2, 20.3], "clamp": true, "nice": false, "zero": false}, "axis": {"orient": "left", "offset": -50.2, "values": [0, 5, 10, 15, 20], "tickSize": 13.5, "labelPadding": 2, "title": null, "zindex": 2}},
               "y2": {"field": "yhi"}}},
            {"data": {"name": "scalePts"}, "transform": [{"filter": "isValid(datum.xlo) && datum.y >= -0.77 && datum.y <= 20.77"}], "mark": {"type": "rule", "color": "#bdbdbd", "strokeWidth": 1.8},
             "encoding": {
               "x": {"field": "xlo", "type": "quantitative", "scale": {"domain": [-1.82, 46.8], "range": [50.2, 427.5], "clamp": true, "nice": false, "zero": false}, "axis": {"orient": "bottom", "offset": -293.8, "values": [0, 10, 20, 30, 40], "tickSize": 12.5, "labelPadding": 3, "title": null, "zindex": 2}},
               "x2": {"field": "xhi"},
               "y": {"field": "y", "type": "quantitative", "scale": {"domain": [-0.77, 20.77], "range": [208.2, 20.3], "clamp": true, "nice": false, "zero": false}, "axis": {"orient": "left", "offset": -50.2, "values": [0, 5, 10, 15, 20], "tickSize": 13.5, "labelPadding": 2, "title": null, "zindex": 2}}}},
            {"data": {"name": "scalePts"}, "transform": [{"filter": "isValid(datum.ylo) && datum.x >= -1.82 && datum.x <= 46.8 && datum.ylo >= -0.77 && datum.ylo <= 20.77"}], "mark": {"type": "tick", "orient": "horizontal", "size": 11, "thickness": 1.8, "color": "#bdbdbd", "opacity": 1},
             "encoding": {
               "x": {"field": "x", "type": "quantitative", "scale": {"domain": [-1.82, 46.8], "range": [50.2, 427.5], "clamp": true, "nice": false, "zero": false}, "axis": {"orient": "bottom", "offset": -293.8, "values": [0, 10, 20, 30, 40], "tickSize": 12.5, "labelPadding": 3, "title": null, "zindex": 2}},
               "y": {"field": "ylo", "type": "quantitative", "scale": {"domain": [-0.77, 20.77], "range": [208.2, 20.3], "clamp": true, "nice": false, "zero": false}, "axis": {"orient": "left", "offset": -50.2, "values": [0, 5, 10, 15, 20], "tickSize": 13.5, "labelPadding": 2, "title": null, "zindex": 2}}}},
            {"data": {"name": "scalePts"}, "transform": [{"filter": "isValid(datum.yhi) && datum.x >= -1.82 && datum.x <= 46.8 && datum.yhi >= -0.77 && datum.yhi <= 20.77"}], "mark": {"type": "tick", "orient": "horizontal", "size": 11, "thickness": 1.8, "color": "#bdbdbd", "opacity": 1},
             "encoding": {
               "x": {"field": "x", "type": "quantitative", "scale": {"domain": [-1.82, 46.8], "range": [50.2, 427.5], "clamp": true, "nice": false, "zero": false}, "axis": {"orient": "bottom", "offset": -293.8, "values": [0, 10, 20, 30, 40], "tickSize": 12.5, "labelPadding": 3, "title": null, "zindex": 2}},
               "y": {"field": "yhi", "type": "quantitative", "scale": {"domain": [-0.77, 20.77], "range": [208.2, 20.3], "clamp": true, "nice": false, "zero": false}, "axis": {"orient": "left", "offset": -50.2, "values": [0, 5, 10, 15, 20], "tickSize": 13.5, "labelPadding": 2, "title": null, "zindex": 2}}}},
            {"data": {"name": "scalePts"}, "transform": [{"filter": "isValid(datum.xlo) && datum.y >= -0.77 && datum.y <= 20.77 && datum.xlo >= -1.82 && datum.xlo <= 46.8"}], "mark": {"type": "tick", "orient": "vertical", "size": 11, "thickness": 1.8, "color": "#bdbdbd", "opacity": 1},
             "encoding": {
               "x": {"field": "xlo", "type": "quantitative", "scale": {"domain": [-1.82, 46.8], "range": [50.2, 427.5], "clamp": true, "nice": false, "zero": false}, "axis": {"orient": "bottom", "offset": -293.8, "values": [0, 10, 20, 30, 40], "tickSize": 12.5, "labelPadding": 3, "title": null, "zindex": 2}},
               "y": {"field": "y", "type": "quantitative", "scale": {"domain": [-0.77, 20.77], "range": [208.2, 20.3], "clamp": true, "nice": false, "zero": false}, "axis": {"orient": "left", "offset": -50.2, "values": [0, 5, 10, 15, 20], "tickSize": 13.5, "labelPadding": 2, "title": null, "zindex": 2}}}},
            {"data": {"name": "scalePts"}, "transform": [{"filter": "isValid(datum.xhi) && datum.y >= -0.77 && datum.y <= 20.77 && datum.xhi >= -1.82 && datum.xhi <= 46.8"}], "mark": {"type": "tick", "orient": "vertical", "size": 11, "thickness": 1.8, "color": "#bdbdbd", "opacity": 1},
             "encoding": {
               "x": {"field": "xhi", "type": "quantitative", "scale": {"domain": [-1.82, 46.8], "range": [50.2, 427.5], "clamp": true, "nice": false, "zero": false}, "axis": {"orient": "bottom", "offset": -293.8, "values": [0, 10, 20, 30, 40], "tickSize": 12.5, "labelPadding": 3, "title": null, "zindex": 2}},
               "y": {"field": "y", "type": "quantitative", "scale": {"domain": [-0.77, 20.77], "range": [208.2, 20.3], "clamp": true, "nice": false, "zero": false}, "axis": {"orient": "left", "offset": -50.2, "values": [0, 5, 10, 15, 20], "tickSize": 13.5, "labelPadding": 2, "title": null, "zindex": 2}}}},
            {"data": {"name": "scalePts"}, "transform": [{"filter": "datum.x >= -1.82 && datum.x <= 46.8 && datum.y >= -0.77 && datum.y <= 20.77"}], "mark": {"type": "circle", "size": 100, "opacity": 1},
             "encoding": {
               "x": {"field": "x", "type": "quantitative", "scale": {"domain": [-1.82, 46.8], "range": [50.2, 427.5], "clamp": true, "nice": false, "zero": false}, "axis": {"orient": "bottom", "offset": -293.8, "values": [0, 10, 20, 30, 40], "tickSize": 12.5, "labelPadding": 3, "title": null, "zindex": 2}},
               "y": {"field": "y", "type": "quantitative", "scale": {"domain": [-0.77, 20.77], "range": [208.2, 20.3], "clamp": true, "nice": false, "zero": false}, "axis": {"orient": "left", "offset": -50.2, "values": [0, 5, 10, 15, 20], "tickSize": 13.5, "labelPadding": 2, "title": null, "zindex": 2}},
               "color": {"field": "status", "type": "nominal", "scale": {"domain": ["Outlier Removed", "Outlier Retained"], "range": ["#ff001a", "#000000"]}, "legend": null}}},
            {"data": {"name": "scaleLabels"}, "transform": [{"filter": "datum.view == 'inset'"}], "mark": {"type": "text", "fontSize": 15.5, "color": "black", "align": "center", "baseline": "middle"},
             "encoding": {
               "x": {"field": "lx", "type": "quantitative", "scale": {"domain": [-1.82, 46.8], "range": [50.2, 427.5], "clamp": true, "nice": false, "zero": false}, "axis": {"orient": "bottom", "offset": -293.8, "values": [0, 10, 20, 30, 40], "tickSize": 12.5, "labelPadding": 3, "title": null, "zindex": 2}},
               "y": {"field": "ly", "type": "quantitative", "scale": {"domain": [-0.77, 20.77], "range": [208.2, 20.3], "clamp": true, "nice": false, "zero": false}, "axis": {"orient": "left", "offset": -50.2, "values": [0, 5, 10, 15, 20], "tickSize": 13.5, "labelPadding": 2, "title": null, "zindex": 2}},
               "text": {"field": "name"}}}
          ]
        }
      ]
    }
  ],
  "resolve": {"scale": {"color": "independent"}, "legend": {"color": "independent"}},
  "config": {
    "font": "Liberation Sans",
    "view": {"stroke": "black", "strokeWidth": 1.5},
    "axis": {"domain": false, "grid": false, "tickColor": "black", "tickWidth": 1.5, "labelColor": "black", "labelFont": "Liberation Sans", "labelFontSize": 19.5, "titleColor": "black", "titleFont": "Liberation Sans", "titleFontWeight": "normal", "titleFontSize": 25.5, "labelFlush": false, "labelOverlap": false},
    "title": {"font": "Liberation Sans", "fontSize": 29.5, "fontWeight": "bold", "color": "black"},
    "text": {"font": "Liberation Sans"}
  }
}
